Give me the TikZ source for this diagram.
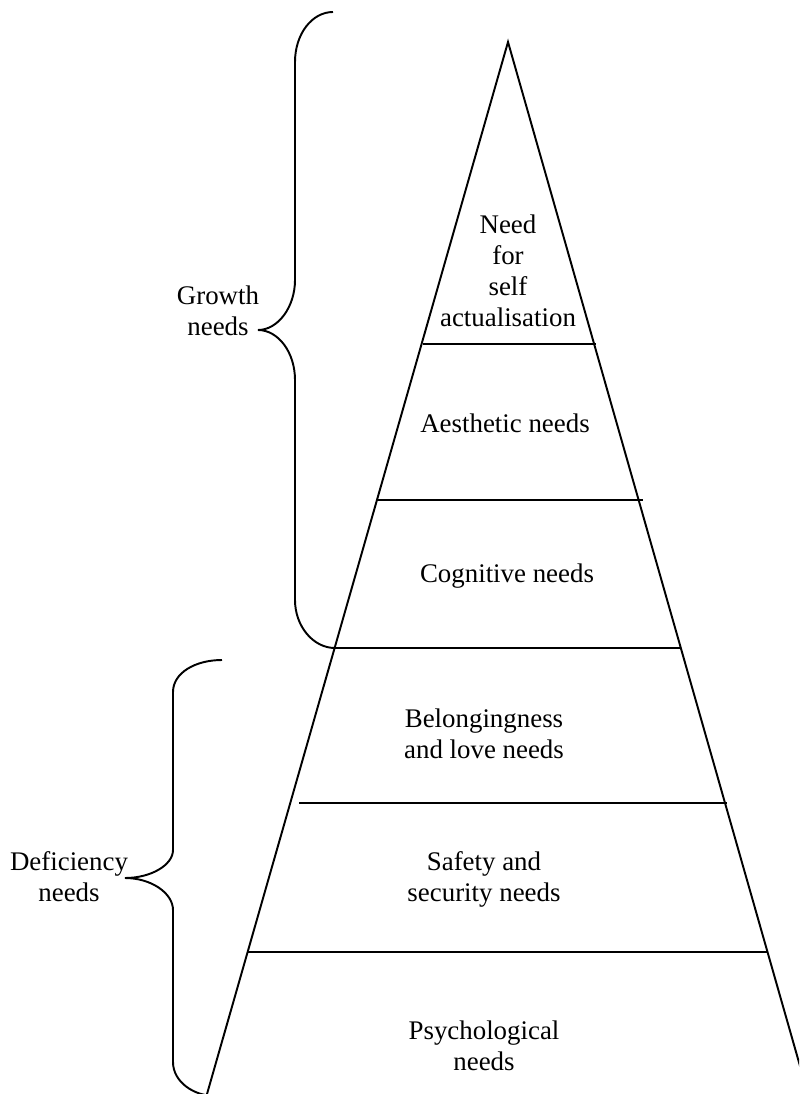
\documentclass[tikz,border=0pt]{standalone}
\usepackage{fontspec}
\setmainfont{Liberation Serif}
\begin{document}
\begin{tikzpicture}[x=0.02cm,y=-0.02cm,
	every node/.style={align=center,inner sep=0pt,font=\fontsize{15.3}{17.6}\selectfont},
	edge/.style={line width=1.1pt},
	tier/.style={line width=1.5pt},
	brace/.style={line width=1.1pt}]
\useasboundingbox (0,0) rectangle (799,1094);
\clip (0,0) rectangle (799,1094);
% pyramid
\coordinate (apex) at (508,42);
\coordinate (baseleft) at (207,1094);
\coordinate (baseright) at (808,1094);
\draw[edge] (baseleft) -- (apex) -- (baseright);
\foreach \y/\a/\b in {344/423/596, 500/378/643, 648/333/681, 803/299/727, 952/248/768}
	\draw[tier] (\a,\y) -- (\b,\y);
% levels
\node (selfact) at (508,271) {Need\\for\\self\\actualisation};
\node (aesthetic) at (505,423) {Aesthetic needs};
\node (cognitive) at (507,576) {Cognitive needs};
\node (belonging) at (484,734) {Belongingness\\and love needs};
\node (safety) at (484,879) {Safety and\\security needs};
\node (psych) at (484,1046) {Psychological\\needs};
% braces
\coordinate (growthtip) at (258,330);
\coordinate (deficiencytip) at (125,878);
\draw[brace] (333,12) .. controls (312,12) and (295,34) .. (295,62) -- (295,280)
	.. controls (295,307) and (278,330) .. (growthtip)
	.. controls (278,330) and (295,352) .. (295,380) -- (295,600)
	.. controls (295,626) and (313,648) .. (335,648);
\draw[brace] (222,660) .. controls (195,660) and (173,673) .. (173,692) -- (173,850)
	.. controls (173,865) and (151,878) .. (deficiencytip)
	.. controls (151,878) and (173,893) .. (173,910) -- (173,1062)
	.. controls (173,1082) and (194,1096) .. (215,1096);
\node (growth) at (218,311) {Growth\\needs};
\node (deficiency) at (69,877) {Deficiency\\needs};
\end{tikzpicture}
\end{document}
